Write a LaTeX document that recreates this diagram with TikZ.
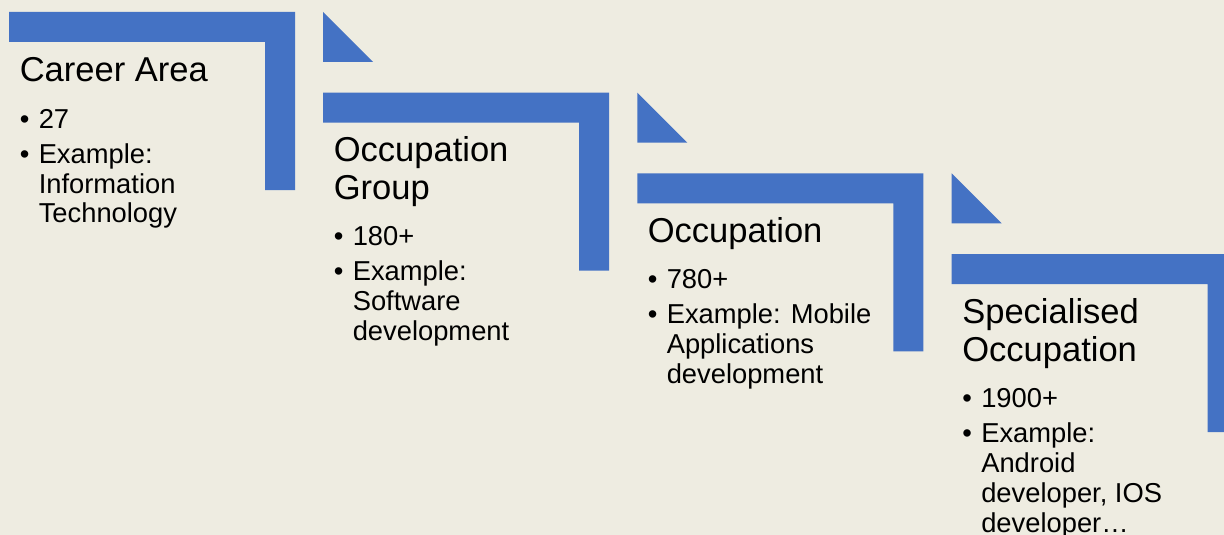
\documentclass[tikz,border=0pt]{standalone}
\usepackage{fontspec}
\setmainfont{Liberation Sans}
\definecolor{pagebg}{HTML}{EEECE1}
\definecolor{stepblue}{HTML}{4472C4}
\begin{document}
\begin{tikzpicture}[x=0.75pt,y=-0.75pt,
  titletext/.style={anchor=base west, inner sep=0pt, font=\fontsize{25.9pt}{28.5pt}\selectfont},
  itemtext/.style={anchor=base west, inner sep=0pt, font=\fontsize{20.5pt}{22.5pt}\selectfont},
  itemdot/.style={itemtext},
  stepshape/.style={fill=stepblue},
]
\fill[pagebg] (0,0) rectangle (1224,535);
\useasboundingbox (0,0) rectangle (1224,535);
\clip (0,0) rectangle (1224,535);

% L-shaped steps
\foreach \k in {0,...,3} {
  \pgfmathsetmacro\L{9+314.2*\k}
  \pgfmathsetmacro\T{12+80.67*\k}
  \fill[stepshape] (\L,\T) -- ++(286,0) -- ++(0,178) -- ++(-30,0)
    -- ++(0,-148) -- ++(-256,0) -- cycle;
}
% small triangles between the steps
\foreach \k in {0,1,2} {
  \pgfmathsetmacro\L{323.2+314.2*\k}
  \pgfmathsetmacro\T{12+80.67*\k}
  \fill[stepshape] (\L,\T) -- ++(0,50) -- ++(50,0) -- cycle;
}

% Step 1
\node[titletext] (t1) at (19.5,82) {Career Area};
\node[itemdot] (d1a) at (19.5,128) {•};
\node[itemtext] (i1a) at (38.5,128) {27};
\node[itemdot] (d1b) at (19.5,163) {•};
\node[itemtext] (i1b) at (38.5,163) {Example:};
\node[itemtext] (i1c) at (38.5,193) {Information};
\node[itemtext] (i1d) at (38.5,222) {Technology};

% Step 2
\node[titletext] (t2a) at (333.5,161.7) {Occupation};
\node[titletext] (t2b) at (333.5,199.5) {Group};
\node[itemdot] (d2a) at (333.5,245) {•};
\node[itemtext] (i2a) at (352.5,245) {180+};
\node[itemdot] (d2b) at (333.5,280) {•};
\node[itemtext] (i2b) at (352.5,280) {Example:};
\node[itemtext] (i2c) at (352.5,310) {Software};
\node[itemtext] (i2d) at (352.5,340) {development};

% Step 3
\node[titletext] (t3) at (647.5,242) {Occupation};
\node[itemdot] (d3a) at (647.5,288) {•};
\node[itemtext] (i3a) at (666.5,288) {780+};
\node[itemdot] (d3b) at (647.5,323) {•};
\node[itemtext] (i3b) at (666.5,323) {Example: Mobile};
\node[itemtext] (i3c) at (666.5,353) {Applications};
\node[itemtext] (i3d) at (666.5,383) {development};

% Step 4
\node[titletext] (t4a) at (962,323) {Specialised};
\node[titletext] (t4b) at (962,361.5) {Occupation};
\node[itemdot] (d4a) at (962,407) {•};
\node[itemtext] (i4a) at (981,407) {1900+};
\node[itemdot] (d4b) at (962,442) {•};
\node[itemtext] (i4b) at (981,442) {Example:};
\node[itemtext] (i4c) at (981,472) {Android};
\node[itemtext] (i4d) at (981,502) {developer, IOS};
\node[itemtext] (i4e) at (981,532) {developer…};
\end{tikzpicture}
\end{document}
